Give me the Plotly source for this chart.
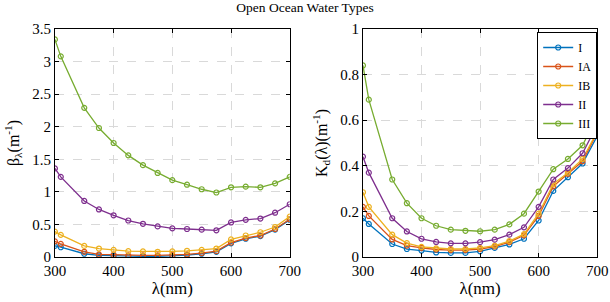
import plotly.graph_objects as go

wavelength = [300, 310, 350, 375, 400, 425, 450, 475, 500, 525, 550, 575, 600, 625, 650, 675, 700]
series_names = ["I", "IA", "IB", "II", "III"]
colors = ["#0072BD", "#D95319", "#EDB120", "#7E2F8E", "#77AC30"]

beta_I   = [0.17, 0.15, 0.05, 0.025, 0.02, 0.01, 0.01, 0.01, 0.015, 0.03, 0.05, 0.08, 0.21, 0.28, 0.32, 0.42, 0.57]
beta_IA  = [0.24, 0.20, 0.08, 0.04, 0.035, 0.025, 0.025, 0.025, 0.03, 0.04, 0.06, 0.09, 0.22, 0.29, 0.33, 0.43, 0.58]
beta_IB  = [0.39, 0.34, 0.17, 0.13, 0.11, 0.09, 0.085, 0.08, 0.085, 0.095, 0.11, 0.13, 0.27, 0.33, 0.38, 0.46, 0.62]
beta_II  = [1.36, 1.23, 0.86, 0.73, 0.64, 0.56, 0.51, 0.47, 0.44, 0.43, 0.42, 0.41, 0.53, 0.57, 0.59, 0.68, 0.81]
beta_III = [3.34, 3.08, 2.29, 1.98, 1.75, 1.56, 1.41, 1.29, 1.18, 1.11, 1.04, 0.99, 1.07, 1.08, 1.07, 1.13, 1.23]

kd_I   = [0.17, 0.145, 0.057, 0.035, 0.028, 0.02, 0.018, 0.018, 0.025, 0.04, 0.055, 0.08, 0.16, 0.29, 0.35, 0.41, 0.53]
kd_IA  = [0.22, 0.18, 0.077, 0.05, 0.04, 0.033, 0.03, 0.03, 0.035, 0.046, 0.065, 0.095, 0.18, 0.31, 0.365, 0.42, 0.545]
kd_IB  = [0.284, 0.22, 0.098, 0.061, 0.044, 0.038, 0.035, 0.035, 0.04, 0.05, 0.07, 0.10, 0.19, 0.32, 0.37, 0.43, 0.55]
kd_II  = [0.44, 0.37, 0.17, 0.112, 0.08, 0.066, 0.06, 0.06, 0.065, 0.076, 0.098, 0.13, 0.22, 0.34, 0.39, 0.455, 0.58]
kd_III = [0.84, 0.69, 0.34, 0.236, 0.17, 0.137, 0.12, 0.115, 0.113, 0.12, 0.143, 0.19, 0.287, 0.385, 0.43, 0.49, 0.617]

beta = [beta_I, beta_IA, beta_IB, beta_II, beta_III]
kd = [kd_I, kd_IA, kd_IB, kd_II, kd_III]

FONT = "Liberation Serif, Times New Roman, serif"

fig = go.Figure()
for name, c, yb, yk in zip(series_names, colors, beta, kd):
    fig.add_trace(go.Scatter(x=wavelength, y=yb, mode="lines+markers", name=name,
                             line=dict(color=c, width=1.3),
                             marker=dict(symbol="circle-open", size=5, color=c, line=dict(width=1.2)),
                             xaxis="x", yaxis="y", showlegend=False))
    fig.add_trace(go.Scatter(x=wavelength, y=yk, mode="lines+markers", name=name,
                             line=dict(color=c, width=1.3),
                             marker=dict(symbol="circle-open", size=5, color=c, line=dict(width=1.2)),
                             xaxis="x2", yaxis="y2", showlegend=True))

axis_common = dict(showline=True, linecolor="black", linewidth=1, mirror="ticks",
                   ticks="inside", ticklen=4, tickcolor="black", automargin=False,
                   showgrid=True, gridcolor="#d9d9d9", griddash="dash", gridwidth=1,
                   zeroline=False, tickfont=dict(family=FONT, size=15, color="black"))

fig.update_layout(
    width=610, height=302,
    margin=dict(l=0, r=0, t=0, b=0, autoexpand=False),
    paper_bgcolor="white", plot_bgcolor="white",
    font=dict(family=FONT, size=14, color="black"),
    title=dict(text="Open Ocean Water Types", x=0.5, xanchor="center", y=0.975, yanchor="middle",
               font=dict(family=FONT, size=13.5, color="black")),
    xaxis=dict(domain=[0.090, 0.475], range=[300, 700], tickvals=[300, 400, 500, 600, 700],
               title=dict(text="λ(nm)", standoff=3, font=dict(family=FONT, size=17)), anchor="y", **axis_common),
    yaxis=dict(domain=[0.149, 0.904], range=[0, 3.5], tickvals=[0, 0.5, 1, 1.5, 2, 2.5, 3, 3.5],
               ticktext=["0", "0.5", "1", "1.5", "2", "2.5", "3", "3.5"],
               title=dict(text="β<sub>λ</sub>(m<sup>-1</sup>)", standoff=8, font=dict(family=FONT, size=16)),
               anchor="x", **axis_common),
    xaxis2=dict(domain=[0.595, 0.979], range=[300, 700], tickvals=[300, 400, 500, 600, 700],
                title=dict(text="λ(nm)", standoff=3, font=dict(family=FONT, size=17)), anchor="y2", **axis_common),
    yaxis2=dict(domain=[0.149, 0.904], range=[0, 1], tickvals=[0, 0.2, 0.4, 0.6, 0.8, 1],
                ticktext=["0", "0.2", "0.4", "0.6", "0.8", "1"],
                title=dict(text="K<sub>d</sub>(λ)(m<sup>-1</sup>)", standoff=8, font=dict(family=FONT, size=16)),
                anchor="x2", **axis_common),
    legend=dict(x=0.979, xanchor="right", y=0.894, yanchor="top",
                bgcolor="white", bordercolor="black", borderwidth=1,
                font=dict(family=FONT, size=12, color="black"),
                tracegroupgap=0, itemwidth=30),
)

fig.write_html("out.html", config={"displayModeBar": False},
               post_script="document.body.style.margin='0px';document.body.style.overflow='hidden';")
